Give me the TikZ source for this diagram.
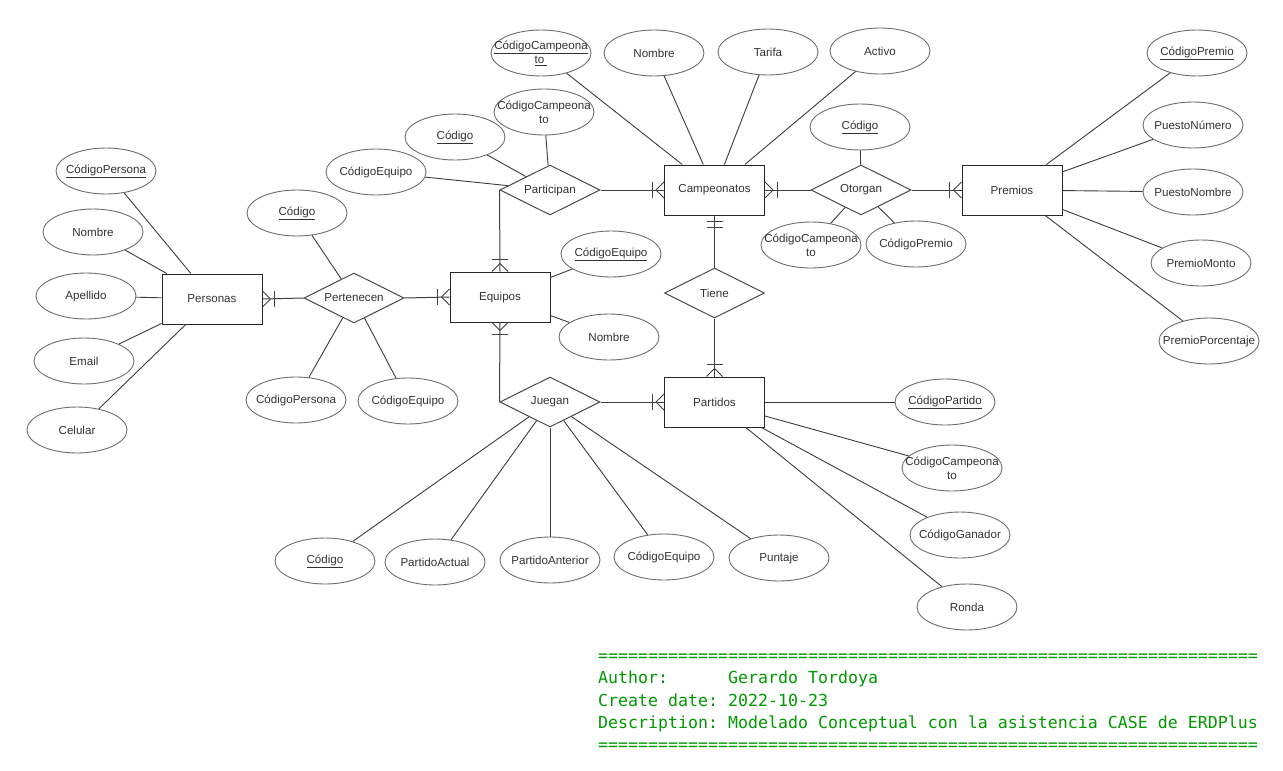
\documentclass[tikz,border=0pt]{standalone}
\usepackage{fontspec}
\setmainfont{Liberation Sans}
\newfontfamily\termfont{DejaVu Sans Mono}
\usetikzlibrary{shapes.geometric}

\definecolor{erdtext}{HTML}{333333}
\definecolor{erdline}{HTML}{3C3C3C}
\definecolor{erdoval}{HTML}{6E6E6E}
\definecolor{termgreen}{HTML}{009A00}

\tikzset{
  erdfont/.style={font=\fontsize{11.6}{14}\selectfont, text=erdtext},
  entity/.style={draw=black!85, line width=1pt, minimum width=100pt, minimum height=50pt, inner sep=0pt, erdfont},
  relation/.style={diamond, aspect=2, draw=black!70, line width=1pt, minimum width=100pt, minimum height=50pt, inner sep=1pt, erdfont},
  attrib/.style={ellipse, draw=erdoval, line width=0.9pt, minimum width=100pt, minimum height=46pt, inner xsep=-20pt, inner ysep=0pt, align=center, erdfont},
  attr line/.style={draw=erdline, line width=0.9pt},
  rel line/.style={draw=black!75, line width=1pt},
  footer/.style={anchor=west, inner sep=0pt, text height=12pt, text depth=4pt, text=termgreen, font=\termfont\fontsize{16.6}{20}\selectfont\frenchspacing},
  manyone/.pic={
    \draw[rel line] (0,8) -- (8,0) -- (0,-8);
    \draw[rel line] (12,8) -- (12,-8);
  },
  onlyone/.pic={
    \draw[rel line] (6,8) -- (6,-8);
    \draw[rel line] (12,8) -- (12,-8);
  }
}

\begin{document}
\begin{tikzpicture}[x=1pt,y=-1pt]
  \fill[white] (0,0) rectangle (1283,771);
  \useasboundingbox (0,0) rectangle (1283,771);

  % entities
  \node[entity] (personas)    at (212,299)   {Personas};
  \node[entity] (equipos)     at (500,297)   {Equipos};
  \node[entity] (campeonatos) at (714.5,190) {Campeonatos};
  \node[entity] (premios)     at (1012,190)  {Premios};
  \node[entity] (partidos)    at (714.5,402) {Partidos};

  % relationships
  \node[relation] (pertenecen) at (354,298)   {Pertenecen};
  \node[relation] (participan) at (550,190)   {Participan};
  \node[relation] (otorgan)    at (861,190)   {Otorgan};
  \node[relation] (tiene)      at (714.5,293) {Tiene};
  \node[relation] (juegan)     at (550,402)   {Juegan};

  % attributes
  \node[attrib] (per-cod)  at (106,171) {\underline{CódigoPersona}};
  \node[attrib] (per-nom)  at (93,232)  {Nombre};
  \node[attrib] (per-ape)  at (86,296)  {Apellido};
  \node[attrib] (per-mail) at (84,361)  {Email};
  \node[attrib] (per-cel)  at (77,430)  {Celular};

  \node[attrib] (pert-cod) at (297,213) {\underline{Código}};
  \node[attrib] (pert-per) at (296,400) {CódigoPersona};
  \node[attrib] (pert-equ) at (408,401) {CódigoEquipo};

  \node[attrib] (equ-cod) at (611,254) {\underline{CódigoEquipo}};
  \node[attrib] (equ-nom) at (609,337) {Nombre};

  \node[attrib] (par-cod)  at (455,137) {\underline{Código}};
  \node[attrib] (par-equ)  at (376,172) {CódigoEquipo};
  \node[attrib] (par-camp) at (544,112) {CódigoCampeona\\to};

  \node[attrib] (camp-cod) at (541,53) {\underline{CódigoCampeona}\\\underline{to\ }};
  \node[attrib] (camp-nom) at (654,53) {Nombre};
  \node[attrib] (camp-tar) at (768,52) {Tarifa};
  \node[attrib] (camp-act) at (880,51) {Activo};

  \node[attrib] (oto-cod)  at (860,127) {\underline{Código}};
  \node[attrib] (oto-camp) at (811,245) {CódigoCampeona\\to};
  \node[attrib] (oto-pre)  at (916,244) {CódigoPremio};

  \node[attrib] (pre-cod) at (1197,53)  {\underline{CódigoPremio}};
  \node[attrib] (pre-num) at (1193,125) {PuestoNúmero};
  \node[attrib] (pre-nom) at (1193,192) {PuestoNombre};
  \node[attrib] (pre-mon) at (1201,263) {PremioMonto};
  \node[attrib] (pre-por) at (1209,341) {PremioPorcentaje};

  \node[attrib] (part-cod)  at (945,402) {\underline{CódigoPartido}};
  \node[attrib] (part-camp) at (952,468) {CódigoCampeona\\to};
  \node[attrib] (part-gan)  at (960,535) {CódigoGanador};
  \node[attrib] (part-ron)  at (967,607) {Ronda};

  \node[attrib] (jue-cod) at (325,561) {\underline{Código}};
  \node[attrib] (jue-act) at (435,562) {PartidoActual};
  \node[attrib] (jue-ant) at (550,560) {PartidoAnterior};
  \node[attrib] (jue-equ) at (664,557) {CódigoEquipo};
  \node[attrib] (jue-pun) at (779,558) {Puntaje};

  % attribute lines
  \foreach \a in {per-cod,per-nom,per-ape,per-mail,per-cel}
    \draw[attr line] (\a) -- (personas);
  \foreach \a in {pert-cod,pert-per,pert-equ}
    \draw[attr line] (\a) -- (pertenecen);
  \foreach \a in {equ-cod,equ-nom}
    \draw[attr line] (\a) -- (equipos);
  \foreach \a in {par-cod,par-equ,par-camp}
    \draw[attr line] (\a) -- (participan);
  \foreach \a in {camp-cod,camp-nom,camp-tar,camp-act}
    \draw[attr line] (\a) -- (campeonatos);
  \foreach \a in {oto-cod,oto-camp,oto-pre}
    \draw[attr line] (\a) -- (otorgan);
  \foreach \a in {pre-cod,pre-num,pre-nom,pre-mon,pre-por}
    \draw[attr line] (\a) -- (premios);
  \foreach \a in {part-cod,part-camp,part-gan,part-ron}
    \draw[attr line] (\a) -- (partidos);
  \foreach \a in {jue-cod,jue-act,jue-ant,jue-equ,jue-pun}
    \draw[attr line] (\a) -- (juegan);

  % relationship lines
  \draw[rel line] (personas.east) -- (pertenecen.west);
  \draw[rel line] (pertenecen.east) -- (equipos.west);
  \draw[rel line] (participan.east) -- (campeonatos.west);
  \draw[rel line] (participan.west) -- (equipos.north);
  \draw[rel line] (campeonatos.east) -- (otorgan.west);
  \draw[rel line] (otorgan.east) -- (premios.west);
  \draw[rel line] (campeonatos.south) -- (tiene.north);
  \draw[rel line] (tiene.south) -- (partidos.north);
  \draw[rel line] (juegan.west) -- (equipos.south);
  \draw[rel line] (juegan.east) -- (partidos.west);

  % cardinalities
  \pic at (personas.east) {manyone};
  \pic[rotate=180] at (equipos.west) {manyone};
  \pic[rotate=180] at (campeonatos.west) {manyone};
  \pic[rotate=90] at (equipos.north) {manyone};
  \pic at (campeonatos.east) {manyone};
  \pic[rotate=180] at (premios.west) {manyone};
  \pic[rotate=-90] at (campeonatos.south) {onlyone};
  \pic[rotate=90] at (partidos.north) {manyone};
  \pic[rotate=-90] at (equipos.south) {manyone};
  \pic[rotate=180] at (partidos.west) {manyone};

  % footer
  \node[footer] (rule-top) at (598,657) {==================================================================};
  \node[footer] (author)   at (598,679) {Author:\ \ \ \ \ \ Gerardo Tordoya};
  \node[footer] (date)     at (598,702) {Create date: 2022-10-23};
  \node[footer] (descr)    at (598,724) {Description: Modelado Conceptual con la asistencia CASE de ERDPlus};
  \node[footer] (rule-bot) at (598,746) {==================================================================};
\end{tikzpicture}
\end{document}
